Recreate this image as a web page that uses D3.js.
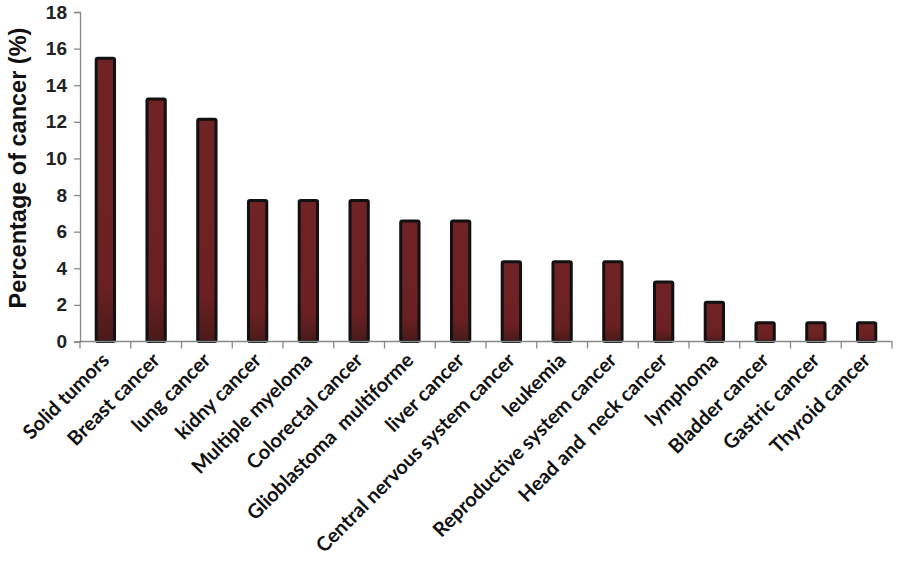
<!DOCTYPE html>
<html><head><meta charset="utf-8">
<script src="https://cdn.jsdelivr.net/npm/d3@7"></script>
<style>body{margin:0;background:#fff}</style>
</head><body>
<svg id="c" width="898" height="563"></svg>
<script>
const categories = ["Solid tumors","Breast cancer","lung cancer","kidny cancer","Multiple myeloma","Colorectal cancer","Glioblastoma  multiforme","liver cancer","Central nervous system cancer","leukemia","Reproductive system cancer","Head and  neck cancer","lymphoma","Bladder cancer","Gastric cancer","Thyroid cancer"];
const values = [15.56,13.33,12.22,7.78,7.78,7.78,6.67,6.67,4.44,4.44,4.44,3.33,2.22,1.11,1.11,1.11];
const yTicks = [0,2,4,6,8,10,12,14,16,18];

const svg = d3.select("#c");
const x = d3.scaleBand().domain(categories).range([80,892]).paddingInner(0.58).paddingOuter(0.29);
const y = d3.scaleLinear().domain([0,18]).range([341.5,12]);

const defs = svg.append("defs");
const g = defs.append("linearGradient").attr("id","bg").attr("x1",0).attr("y1",0).attr("x2",0).attr("y2",1);
g.append("stop").attr("offset","0%").attr("stop-color","#702325");
g.append("stop").attr("offset","80%").attr("stop-color","#6a2022");
g.append("stop").attr("offset","100%").attr("stop-color","#4a1a1a");

svg.selectAll("rect.bar").data(values).join("rect").attr("class","bar")
  .attr("x",(d,i)=>x(categories[i])+1.5)
  .attr("width",x.bandwidth()-3)
  .attr("y",d=>y(d)+1.5)
  .attr("height",d=>y(0)-y(d)-1.5)
  .attr("rx",1.5)
  .attr("fill","url(#bg)").attr("stroke","#111").attr("stroke-width",3);

// y axis
const ya = svg.append("g").attr("transform","translate(80,0)")
  .call(d3.axisLeft(y).tickValues(yTicks).tickSize(6).tickPadding(7));
ya.select(".domain").attr("stroke","#888").attr("stroke-width",1.3);
ya.selectAll(".tick line").attr("stroke","#888").attr("stroke-width",1.3);
ya.selectAll(".tick text").attr("font-family","Liberation Sans, Arial, sans-serif")
  .attr("font-weight","bold").attr("font-size",19).attr("fill","#222");

// x axis
const xa = svg.append("g").attr("transform","translate(0,"+y(0)+")");
xa.append("line").attr("x1",80).attr("x2",892).attr("stroke","#888").attr("stroke-width",1.3);
const bounds = categories.map((c,i)=>x(c)-x.step()*x.paddingOuter()).concat([892]);
xa.selectAll("line.t").data(bounds).join("line").attr("class","t")
  .attr("x1",d=>d).attr("x2",d=>d).attr("y1",0).attr("y2",7).attr("stroke","#888").attr("stroke-width",1.3);
xa.selectAll("text.lab").data(categories).join("text").attr("class","lab")
  .attr("transform",d=>"translate("+(x(d)+x.bandwidth()/2+5)+",20) rotate(-45)")
  .attr("text-anchor","end").attr("font-family","Lato, Open Sans, sans-serif")
  .attr("font-weight","bold").attr("font-size",20).attr("fill","#111")
  .style("white-space","pre").text(d=>d);

svg.append("text").attr("transform","translate(26,168) rotate(-90)")
  .attr("text-anchor","middle").attr("font-family","Liberation Sans, Arial, sans-serif")
  .attr("font-weight","bold").attr("font-size",23.5).attr("fill","#111")
  .text("Percentage of cancer (%)");
</script>
</body></html>
